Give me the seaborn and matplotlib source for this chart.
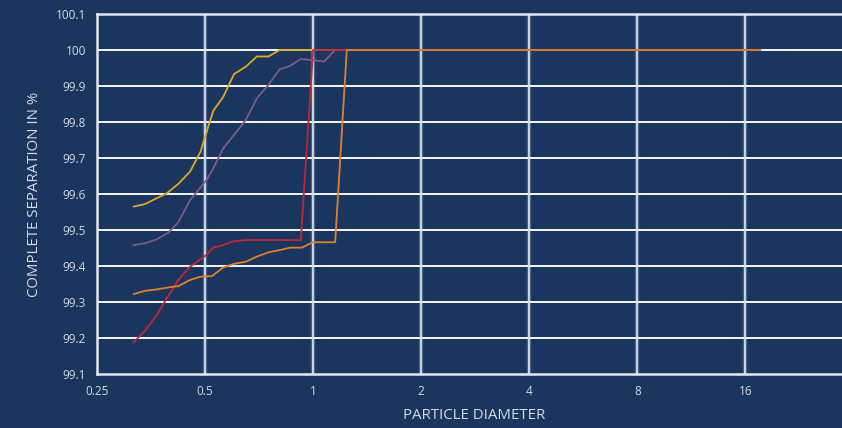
import numpy as np
import pandas as pd
import matplotlib
matplotlib.use("Agg")
import matplotlib.pyplot as plt
import seaborn as sns

# ---- data ----
yellow_x = [0.316, 0.340, 0.391, 0.421, 0.454, 0.486, 0.505, 0.527, 0.562, 0.602, 0.650, 0.697, 0.751, 0.806, 17.6]
yellow_y = [99.565, 99.572, 99.602, 99.628, 99.662, 99.718, 99.773, 99.831, 99.870, 99.933, 99.954, 99.982, 99.982, 100.0, 100.0]

purple_x = [0.316, 0.340, 0.367, 0.395, 0.421, 0.454, 0.505, 0.527, 0.562, 0.602, 0.650, 0.697, 0.751, 0.806, 0.863, 0.924, 0.992, 1.073, 1.152, 17.6]
purple_y = [99.458, 99.463, 99.474, 99.493, 99.521, 99.583, 99.639, 99.671, 99.727, 99.764, 99.806, 99.866, 99.903, 99.946, 99.956, 99.975, 99.972, 99.968, 100.0, 100.0]

red_x = [0.316, 0.340, 0.367, 0.391, 0.421, 0.454, 0.505, 0.527, 0.562, 0.602, 0.650, 0.924, 1.0, 17.6]
red_y = [99.188, 99.220, 99.264, 99.310, 99.361, 99.398, 99.431, 99.451, 99.458, 99.469, 99.472, 99.472, 100.0, 100.0]

orange_x = [0.316, 0.340, 0.367, 0.398, 0.421, 0.454, 0.484, 0.523, 0.562, 0.602, 0.650, 0.697, 0.751, 0.806, 0.863, 0.930, 0.998, 1.152, 1.241, 17.6]
orange_y = [99.322, 99.331, 99.335, 99.341, 99.344, 99.361, 99.370, 99.372, 99.396, 99.406, 99.412, 99.426, 99.438, 99.444, 99.451, 99.451, 99.466, 99.466, 100.0, 100.0]

series_names = ["yellow", "purple", "red", "orange"]
series_colors = ["#dcaa22", "#80598f", "#bd2838", "#e0802e"]

x_ticks = [0.25, 0.5, 1, 2, 4, 8, 16]
x_tick_labels = ["0.25", "0.5", "1", "2", "4", "8", "16"]
y_ticks = [99.1, 99.2, 99.3, 99.4, 99.5, 99.6, 99.7, 99.8, 99.9, 100.0, 100.1]
y_tick_labels = ["99.1", "99.2", "99.3", "99.4", "99.5", "99.6", "99.7", "99.8", "99.9", "100", "100.1"]

frames = []
for name, xs, ys in zip(series_names,
                        [yellow_x, purple_x, red_x, orange_x],
                        [yellow_y, purple_y, red_y, orange_y]):
    frames.append(pd.DataFrame({"x": xs, "y": ys, "series": name}))
df = pd.concat(frames, ignore_index=True)

# ---- style ----
bg = "#1a365f"
sns.set_theme(style="dark")
plt.rcParams["font.family"] = ["Open Sans", "DejaVu Sans"]

fig = plt.figure(figsize=(8.42, 4.28), dpi=100, facecolor=bg)
ax = fig.add_axes([97/842, (428-374)/428, 1 - 97/842 + 0.01, (374-14)/428])
ax.set_facecolor(bg)

ax.set_xscale("log", base=2)
xmax = 0.25 * 2 ** ((850 - 97) / 108)
ax.set_xlim(0.25, xmax)
ax.set_ylim(99.1, 100.1)

# grid
for xv in x_ticks[1:]:
    ax.axvline(xv, color="#6f87a8", lw=3.2, alpha=0.55, zorder=1)
    ax.axvline(xv, color="#d6dde8", lw=1.3, zorder=1.1)
for yv in y_ticks[1:-1]:
    ax.axhline(yv, color="#f4f6fa", lw=1.4, zorder=1)

sns.lineplot(data=df, x="x", y="y", hue="series", palette=dict(zip(series_names, series_colors)),
             hue_order=series_names, sort=False,
             estimator=None, lw=1.3, legend=False, ax=ax, zorder=3)

ax.set_xticks(x_ticks)
ax.set_xticklabels(x_tick_labels)
ax.set_yticks(y_ticks)
ax.set_yticklabels(y_tick_labels)
ax.minorticks_off()
ax.tick_params(axis="both", colors="#d3dae4", labelsize=8.5, length=0, pad=8)

for side in ["left", "bottom", "top"]:
    ax.spines[side].set_visible(True)
    ax.spines[side].set_color("#e4e8ef")
    ax.spines[side].set_linewidth(1.8)
ax.spines["right"].set_visible(False)
ax.grid(False)

ax.set_xlabel("PARTICLE DIAMETER", color="#d3dae4", fontsize=10.8, labelpad=7)
ax.set_ylabel("COMPLETE SEPARATION IN %", color="#d3dae4", fontsize=10.8, labelpad=10)

fig.savefig("out.png", dpi=100, facecolor=bg)
